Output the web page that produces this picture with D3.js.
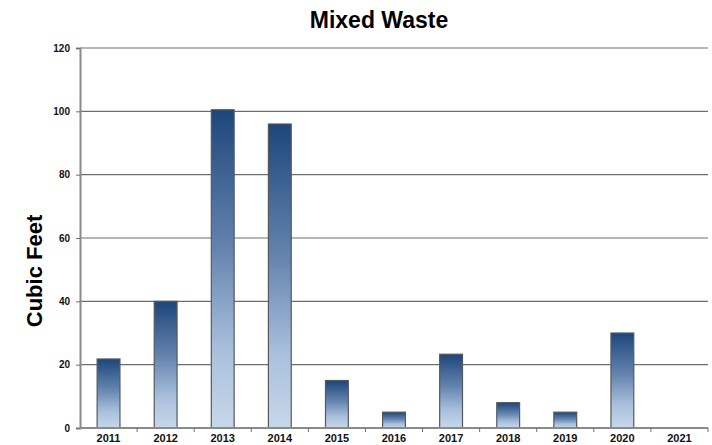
<!DOCTYPE html>
<html>
<head>
<meta charset="utf-8">
<script src="https://cdn.jsdelivr.net/npm/d3@7/dist/d3.min.js"></script>
<style>
  html, body { margin: 0; padding: 0; background: #fff; }
  svg { display: block; font-family: "Liberation Sans", Arial, sans-serif; }
</style>
</head>
<body>
<svg id="chart" width="712" height="445"></svg>
<script>
const years = ["2011","2012","2013","2014","2015","2016","2017","2018","2019","2020","2021"];
const cubicFeet = [21.8, 40, 100.5, 96, 15, 5, 23.3, 8, 5, 30, 0];
const yTicks = [0, 20, 40, 60, 80, 100, 120];

const svg = d3.select("#chart");
const margin = { top: 48, right: 4, bottom: 17, left: 80 };
const W = 712, H = 445;
const plotW = W - margin.left - margin.right;
const plotH = H - margin.top - margin.bottom;

const x = d3.scaleBand().domain(years).range([0, plotW]).paddingInner(0.6).paddingOuter(0.3);
const xTick = d3.scaleBand().domain(years).range([0, plotW]);
const y = d3.scaleLinear().domain([0, 120]).range([plotH, 0]);

const defs = svg.append("defs");
const grad = defs.append("linearGradient")
  .attr("id", "barFill").attr("x1", 0).attr("y1", 0).attr("x2", 0).attr("y2", 1);
grad.append("stop").attr("offset", "0%").attr("stop-color", "#1d467b");
grad.append("stop").attr("offset", "45%").attr("stop-color", "#6786b0");
grad.append("stop").attr("offset", "75%").attr("stop-color", "#a8bfdc");
grad.append("stop").attr("offset", "100%").attr("stop-color", "#c8d7ea");

const g = svg.append("g").attr("transform", `translate(${margin.left},${margin.top})`);

// horizontal gridlines
g.append("g").selectAll("line").data(yTicks.filter(d => d > 0)).join("line")
  .attr("x1", 0).attr("x2", plotW)
  .attr("y1", d => y(d)).attr("y2", d => y(d))
  .attr("stroke", "#6e6e6e").attr("stroke-width", 1.2);

// bars
g.append("g").selectAll("rect").data(years.map((yr, i) => ({ yr, v: cubicFeet[i] })).filter(d => d.v > 0))
  .join("rect")
  .attr("x", d => x(d.yr))
  .attr("y", d => y(d.v))
  .attr("width", x.bandwidth())
  .attr("height", d => y(0) - y(d.v))
  .attr("fill", "url(#barFill)")
  .attr("stroke", "#55595e")
  .attr("stroke-width", 1.2);

// y axis
const yAxis = g.append("g")
  .call(d3.axisLeft(y).tickValues(yTicks).tickSize(4).tickPadding(6));
yAxis.select(".domain").attr("stroke", "#8a8a8a").attr("stroke-width", 2);
yAxis.selectAll(".tick line").attr("stroke", "#6e6e6e");
yAxis.selectAll(".tick text").attr("font-size", 10).attr("font-weight", "bold").attr("fill", "#111");

// x axis with ticks at category boundaries
const xAxis = g.append("g").attr("transform", `translate(0,${plotH})`);
xAxis.append("line").attr("x1", 0).attr("x2", plotW).attr("stroke", "#8a8a8a").attr("stroke-width", 2);
xAxis.selectAll("line.tk").data(years.slice(1).concat(["end"])).join("line")
  .attr("class", "tk")
  .attr("x1", (d, i) => xTick.step() * (i + 1)).attr("x2", (d, i) => xTick.step() * (i + 1))
  .attr("y1", 0).attr("y2", 4).attr("stroke", "#6e6e6e");
xAxis.selectAll("text").data(years).join("text")
  .attr("x", d => x(d) + x.bandwidth() / 2)
  .attr("y", 14)
  .attr("text-anchor", "middle")
  .attr("font-size", 11).attr("font-weight", "bold").attr("fill", "#111")
  .text(d => d);

// title
svg.append("text")
  .attr("x", 379).attr("y", 28)
  .attr("text-anchor", "middle")
  .attr("font-size", 23).attr("font-weight", "bold").attr("fill", "#000")
  .text("Mixed Waste");

// y-axis label
svg.append("text")
  .attr("transform", "translate(42,271) rotate(-90)")
  .attr("text-anchor", "middle")
  .attr("font-size", 22).attr("font-weight", "bold").attr("fill", "#000")
  .text("Cubic Feet");
</script>
</body>
</html>
